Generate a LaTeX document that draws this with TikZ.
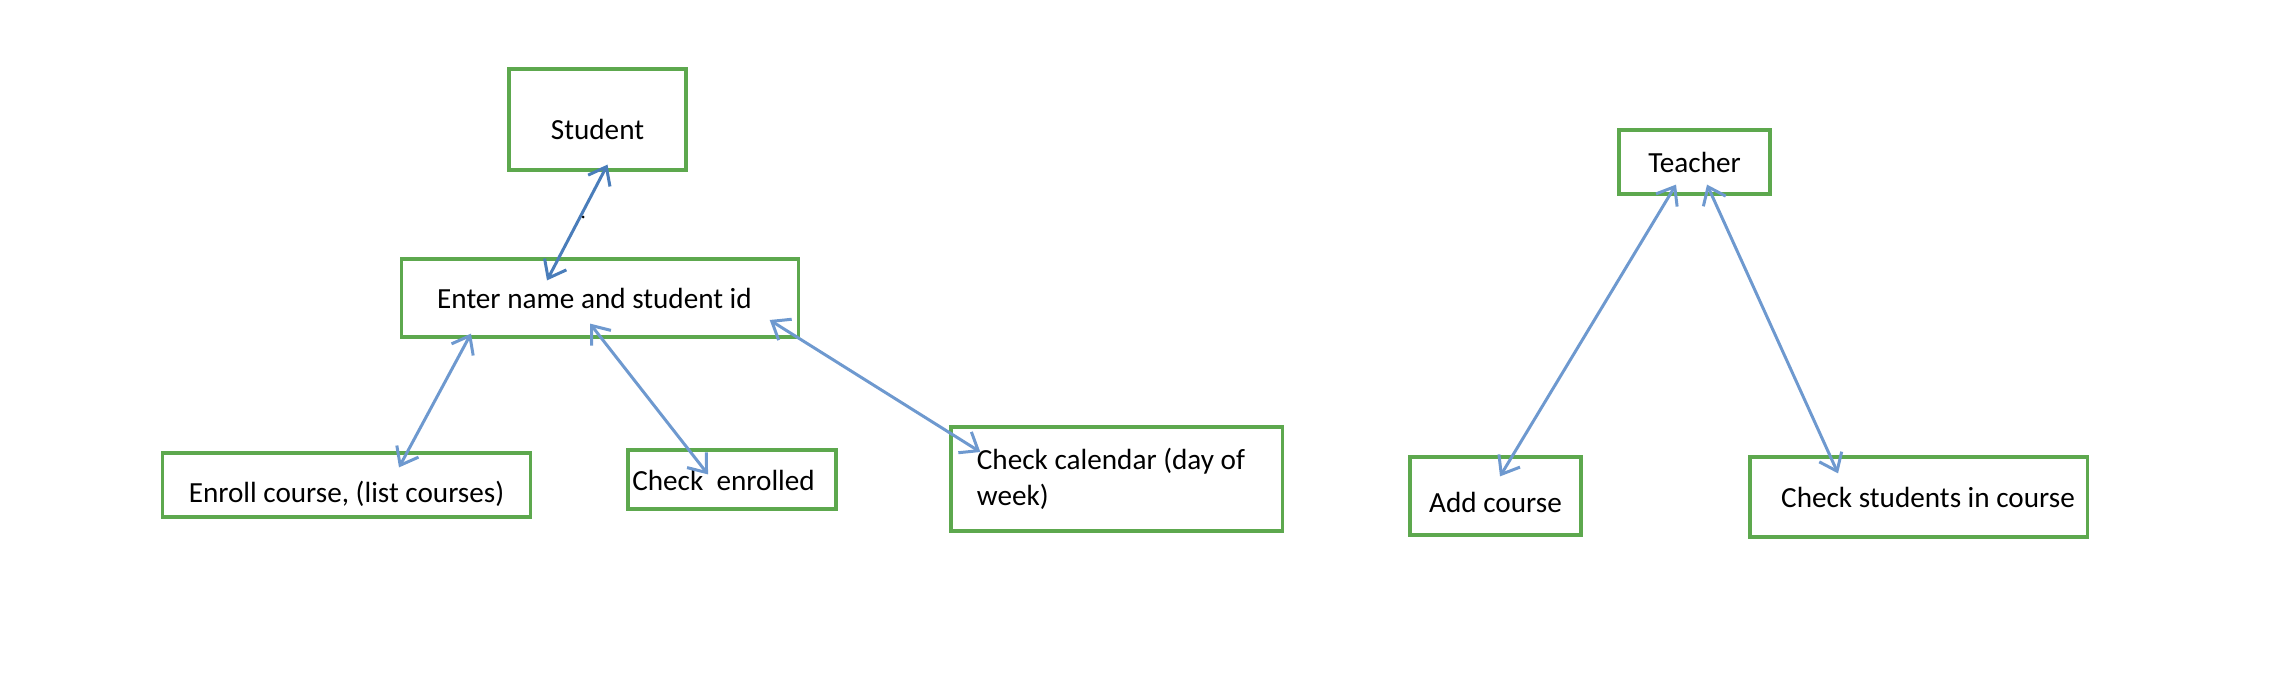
\documentclass[tikz,border=0pt]{standalone}
\usepackage{fontspec}
\setmainfont{Carlito}
\usepackage{xcolor}
\usetikzlibrary{arrows.meta,positioning,calc}

\definecolor{boxgreen}{RGB}{93,168,78}
\definecolor{darkarrow}{RGB}{74,125,186}
\definecolor{lightarrow}{RGB}{110,153,207}

\begin{document}
\begin{tikzpicture}[
    x=0.01cm, y=-0.01cm,
    font=\fontsize{8.3}{10.2}\selectfont,
    box/.style={rectangle, draw=boxgreen, line width=0.9pt, inner sep=0pt, align=center, text height=6pt, text depth=0pt},
    arrow/.style={{Straight Barb[length=4.5pt,width=7pt]}-{Straight Barb[length=4.5pt,width=7pt]}, line width=0.85pt, lightarrow}
]
    \useasboundingbox (0,0) rectangle (2280,682);

    % Student side
    \node[box, minimum width=1.77cm, minimum height=1.01cm, text height=11.2pt] (student) at (597.5,119.5) {Student};
    \node[box, minimum width=3.96cm, minimum height=0.78cm] (enter) at (600,298) {Enter name and student id\hspace*{0.11cm}};
    \node[box, minimum width=3.67cm, minimum height=0.64cm, text height=9.7pt] (enroll) at (346.5,485) {Enroll course, (list courses)};
    \node[box, minimum width=2.08cm, minimum height=0.59cm] (enrolled) at (732,479.5) {Check\ \ enrolled\hspace*{0.17cm}};
    \node[box, minimum width=3.31cm, minimum height=1.04cm, text width=3.1cm, align=left, text height=, text depth=] (calendar) at (1116.5,479) {\spaceskip=0pt\hspace*{0.155cm}Check calendar (day of\\\hspace*{0.155cm}week)};

    % Teacher side
    \node[box, minimum width=1.51cm, minimum height=0.64cm] (teacher) at (1694.5,162) {Teacher};
    \node[box, minimum width=1.71cm, minimum height=0.78cm, text height=9.1pt] (addcourse) at (1495.5,496) {Add course};
    \node[box, minimum width=3.37cm, minimum height=0.80cm] (checkstud) at (1918.5,497) {\hspace*{0.19cm}Check students in course};

    % Arrows
    \draw[arrow, darkarrow] ($(student.south)+(10,-7)$) -- ($(enter.north)+(-53,23)$);
    \fill (583,217) circle (1.5);
    \draw[arrow] ($(enter.south)+(-129,-5)$) -- ($(enroll.north)+(52.5,16)$);
    \draw[arrow] ($(enter.south)+(-10,-15)$) -- ($(enrolled.north)+(-24,26)$);
    \draw[arrow] ($(enter.east)+(-30,22)$) -- ($(calendar.west)+(31,-27)$);
    \draw[arrow] ($(teacher.south)+(-18.5,-11)$) -- ($(addcourse.north)+(4.5,21)$);
    \draw[arrow] ($(teacher.south)+(12.5,-11)$) -- ($(checkstud.north)+(-80.5,18)$);

\end{tikzpicture}
\end{document}
